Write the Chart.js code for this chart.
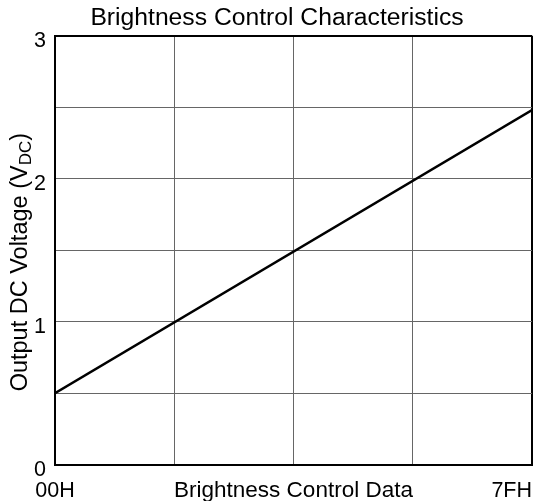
<!DOCTYPE html>
<html>
<head>
<meta charset="utf-8">
<script src="https://cdn.jsdelivr.net/npm/chart.js@4.4.1/dist/chart.umd.min.js"></script>
<style>
  html, body { margin: 0; padding: 0; background: #fff; }
  #wrap { width: 539px; height: 501px; }
</style>
</head>
<body>
<div id="wrap"><canvas id="chart"></canvas></div>
<script>
// values
const controlData = [0, 127];          // 00H .. 7FH
const outputVoltage = [0.5, 2.48];     // VDC
const xTickValues = [0, 31.75, 63.5, 95.25, 127];
const xTickLabels = ['00H', '', '', '', '7FH'];
const yTickLabels = ['0', '1', '2', '3'];

const FONT = '"Liberation Sans", Arial, sans-serif';

// y axis title has a subscript, so draw it by hand
const yTitlePlugin = {
  id: 'yTitle',
  afterDraw(chart) {
    const ctx = chart.ctx;
    const area = chart.chartArea;
    const main = 'Output DC Voltage (V', sub = 'DC', end = ')';
    ctx.save();
    ctx.translate(21, (area.top + area.bottom) / 2 + 12);
    ctx.rotate(-Math.PI / 2);
    ctx.fillStyle = '#000';
    ctx.textBaseline = 'middle';
    ctx.textAlign = 'left';
    ctx.font = '23.5px ' + FONT;
    const w1 = ctx.measureText(main).width;
    const w3 = ctx.measureText(end).width;
    ctx.font = '17px ' + FONT;
    const w2 = ctx.measureText(sub).width;
    let x = -(w1 + w2 + w3) / 2;
    ctx.font = '23.5px ' + FONT;
    ctx.fillText(main, x, 0);
    x += w1;
    ctx.font = '17px ' + FONT;
    ctx.fillText(sub, x, 5);
    x += w2;
    ctx.font = '23.5px ' + FONT;
    ctx.fillText(end, x, 0);
    ctx.restore();
  }
};

// first x label centred, last one pulled inside
const xLabelPlugin = {
  id: 'xLabelAlign',
  beforeDraw(chart) {
    const items = chart.scales.x.getLabelItems(chart.chartArea);
    if (items.length) items[0].options.textAlign = 'center';
  }
};

new Chart(document.getElementById('chart'), {
  type: 'line',
  data: {
    labels: controlData,
    datasets: [{
      data: controlData.map((x, i) => ({ x: x, y: outputVoltage[i] })),
      borderColor: '#000',
      borderWidth: 2.5,
      pointRadius: 0,
      fill: false,
      tension: 0
    }]
  },
  options: {
    responsive: true,
    maintainAspectRatio: false,
    animation: false,
    layout: { padding: { left: 22, right: 7, top: 0, bottom: 0 } },
    plugins: {
      legend: { display: false },
      tooltip: { enabled: false },
      title: {
        display: true,
        text: 'Brightness Control Characteristics',
        color: '#000',
        font: { family: FONT, size: 24.7, weight: 'normal', lineHeight: 1 },
        padding: { top: 6, bottom: 5 }
      }
    },
    scales: {
      x: {
        type: 'linear',
        min: 0,
        max: 127,
        afterBuildTicks: (scale) => { scale.ticks = xTickValues.map(v => ({ value: v })); },
        ticks: {
          autoSkip: false,
          maxRotation: 0,
          align: 'inner',
          padding: 0,
          color: '#000',
          font: { family: FONT, size: 21.5, lineHeight: 0.9 },
          callback: (v, i) => xTickLabels[i]
        },
        grid: {
          drawTicks: true,
          tickLength: 17,
          tickColor: 'rgba(0,0,0,0)',
          color: (c) => c.tick && c.tick.value === 127 ? '#000' : '#666',
          lineWidth: (c) => c.tick && c.tick.value === 127 ? 2 : 1
        },
        border: { color: '#000', width: 2 },
        title: {
          display: true,
          text: 'Brightness Control Data',
          color: '#000',
          font: { family: FONT, size: 22.5, lineHeight: 1 },
          padding: { top: -21, bottom: -1.5 }
        }
      },
      y: {
        min: 0,
        max: 3,
        afterFit: (scale) => { scale.width = 33; },
        ticks: {
          stepSize: 0.5,
          padding: 9,
          labelOffset: 5,
          color: '#000',
          font: { family: FONT, size: 21.5 },
          callback: (v) => Number.isInteger(v) ? yTickLabels[v] : ''
        },
        grid: {
          drawTicks: false,
          color: (c) => c.tick && c.tick.value === 3 ? '#000' : '#666',
          lineWidth: (c) => c.tick && c.tick.value === 3 ? 2 : 1
        },
        border: { color: '#000', width: 2 }
      }
    }
  },
  plugins: [yTitlePlugin, xLabelPlugin]
});
</script>
</body>
</html>
